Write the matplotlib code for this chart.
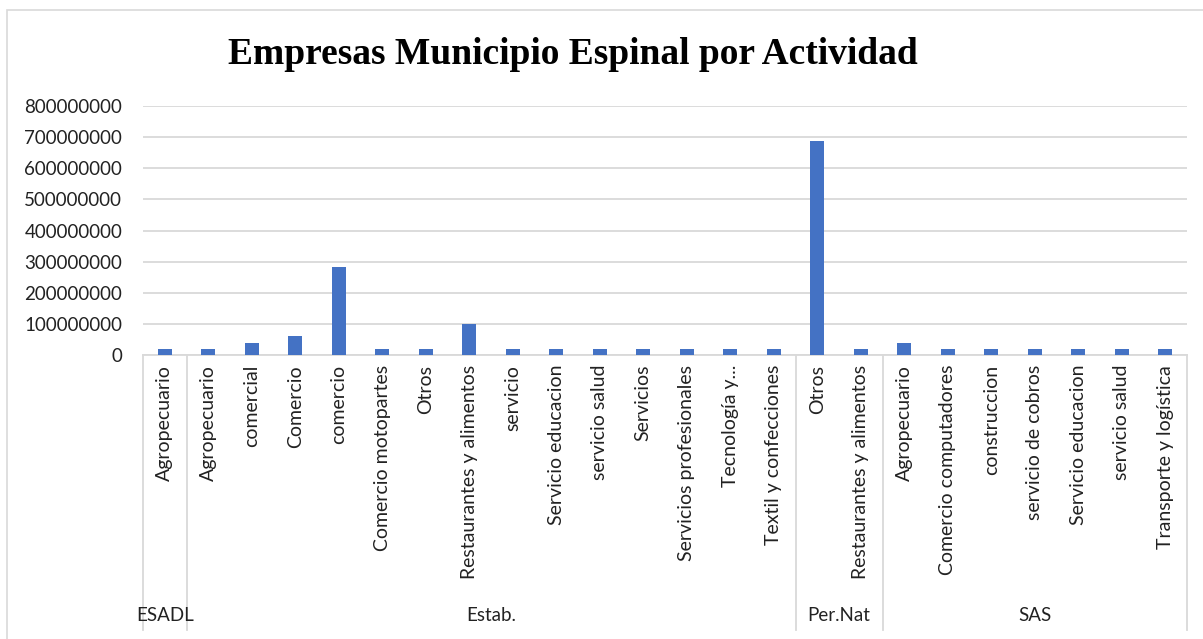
import matplotlib.pyplot as plt
from matplotlib.patches import Rectangle
from matplotlib.ticker import FuncFormatter

groups = ["ESADL", "Estab.", "Per.Nat", "SAS"]
group_sizes = [1, 14, 2, 7]
categories = [
    "Agropecuario",
    "Agropecuario", "comercial", "Comercio", "comercio", "Comercio motopartes",
    "Otros", "Restaurantes y alimentos", "servicio", "Servicio educacion",
    "servicio salud", "Servicios", "Servicios profesionales", "Tecnología y...",
    "Textil y confecciones",
    "Otros", "Restaurantes y alimentos",
    "Agropecuario", "Comercio computadores", "construccion", "servicio de cobros",
    "Servicio educacion", "servicio salud", "Transporte y logística",
]
values = [
    20e6,
    20e6, 40e6, 60e6, 283e6, 20e6, 20e6, 100e6, 20e6, 20e6, 20e6, 20e6, 20e6, 20e6, 20e6,
    687e6, 20e6,
    40e6, 20e6, 20e6, 20e6, 20e6, 20e6, 20e6,
]

W, H = 1203, 639
fig = plt.figure(figsize=(W / 100, H / 100), dpi=100)
label_font = "Lato"

# outer chart frame (right and bottom edges fall outside the image)
fig.patches.append(Rectangle((7 / W, -0.01), 1.0, 1 - 10 / H + 0.01,
                             transform=fig.transFigure, fill=False,
                             edgecolor="#d9d9d9", linewidth=1.2))

ax = fig.add_axes([143 / W, (H - 355) / H, (1187 - 143) / W, (355 - 106) / H])
x = list(range(len(categories)))
ax.bar(x, values, width=0.32, color="#4472c4", zorder=3)
ax.set_xlim(-0.5, len(categories) - 0.5)
ax.set_ylim(0, 800e6)
ax.set_yticks([i * 100e6 for i in range(9)])
ax.yaxis.set_major_formatter(FuncFormatter(lambda v, p: f"{v:.0f}"))
ax.grid(axis="y", color="#d9d9d9", linewidth=1.3, zorder=0)
for s in ["top", "right", "left"]:
    ax.spines[s].set_visible(False)
ax.spines["bottom"].set_color("#d9d9d9")
ax.spines["bottom"].set_linewidth(1.3)
ax.tick_params(axis="y", length=0, labelsize=13.5, pad=15, labelcolor="#222222")
ax.tick_params(axis="x", length=0)
ax.set_xticks(x)
ax.set_xticklabels([])
for lab in ax.get_yticklabels():
    lab.set_family(label_font)

trans = ax.get_xaxis_transform()
for xi, name in zip(x, categories):
    ax.text(xi, -0.04, name, transform=trans, rotation=90, ha="center", va="top",
            fontsize=14, family=label_font, color="#222222")

# group separators and labels
start = 0
edges = [-0.5]
for g, n in zip(groups, group_sizes):
    edges.append(start + n - 0.5)
    ax.text(start + (n - 1) / 2, -1.045, g, transform=trans, ha="center", va="center",
            fontsize=13.5, family=label_font, color="#222222")
    start += n
for e in edges:
    ax.plot([e, e], [0, -1.105], transform=trans, color="#d9d9d9", linewidth=1.3,
            clip_on=False)

fig.text(573 / W, 1 - 55 / H, "Empresas Municipio Espinal por Actividad", ha="center",
         va="center", fontsize=27, fontweight="bold", family="Liberation Serif")

fig.savefig("out.png", dpi=100)
